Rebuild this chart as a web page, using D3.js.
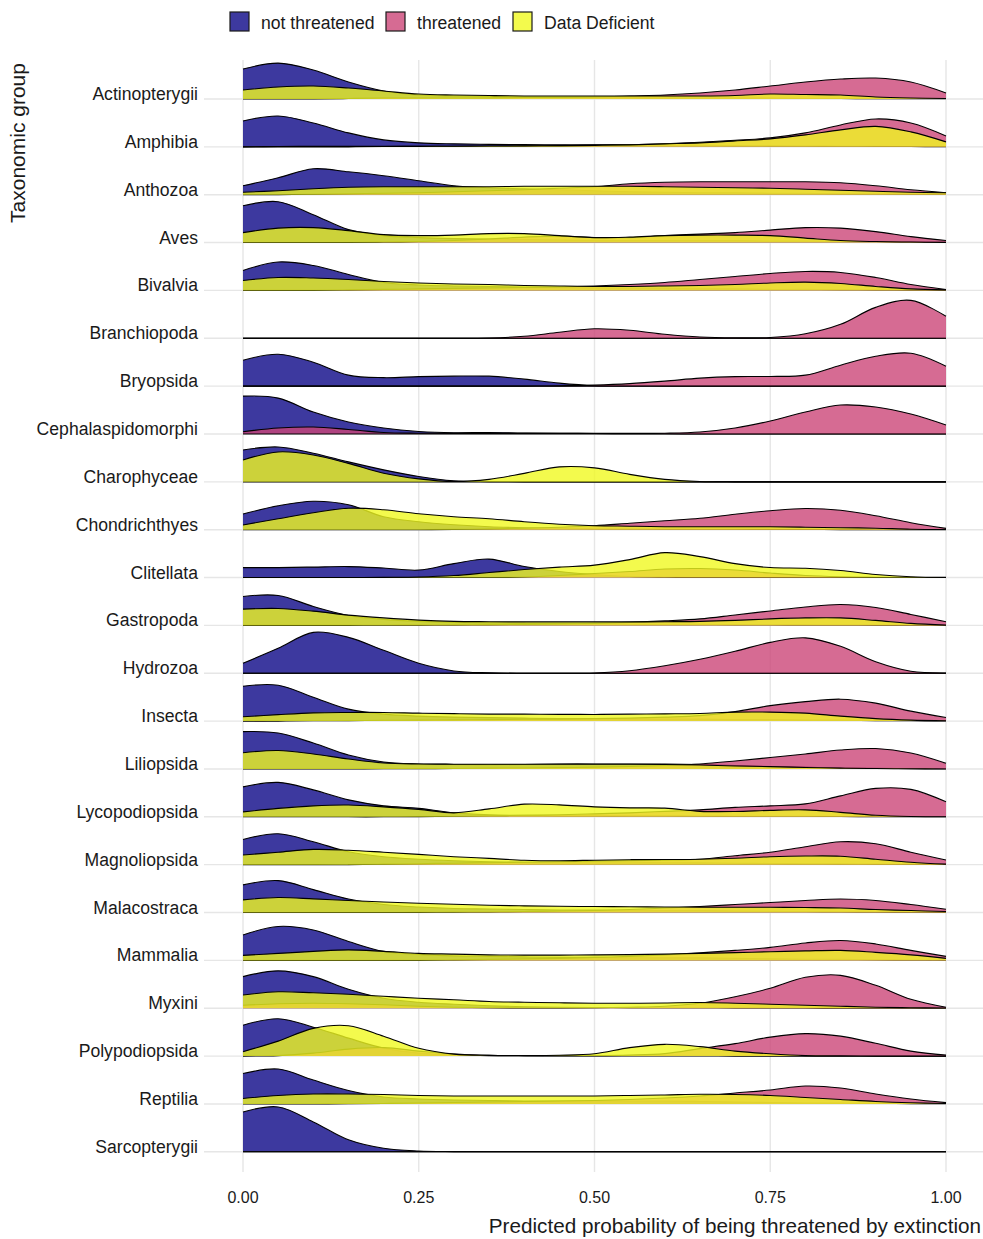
<!DOCTYPE html>
<html lang="en">
<head>
<meta charset="UTF-8">
<title>Predicted extinction risk by taxonomic group</title>
<script src="https://d3js.org/d3.v7.min.js"></script>
<style>
  body { margin: 0; background: #fff; font-family: "Liberation Sans", Arial, sans-serif; }
  .grid line { stroke: #e6e6e6; stroke-width: 1.4px; }
  .ridge-line { fill: none; stroke: #000; stroke-width: 1.1px; }
  .tick-label { font-size: 16px; fill: #1a1a1a; text-anchor: middle; }
  .row-label { font-size: 17.6px; fill: #1a1a1a; text-anchor: end; }
</style>
</head>
<body>
<svg id="chart" width="983" height="1239"></svg>
<script>
var xs = [0, 0.05, 0.1, 0.15, 0.2, 0.25, 0.3, 0.35, 0.4, 0.45, 0.5,
          0.55, 0.6, 0.65, 0.7, 0.75, 0.8, 0.85, 0.9, 0.95, 1];

var groups = ["Actinopterygii", "Amphibia", "Anthozoa", "Aves", "Bivalvia", "Branchiopoda",
  "Bryopsida", "Cephalaspidomorphi", "Charophyceae", "Chondrichthyes", "Clitellata",
  "Gastropoda", "Hydrozoa", "Insecta", "Liliopsida", "Lycopodiopsida", "Magnoliopsida",
  "Malacostraca", "Mammalia", "Myxini", "Polypodiopsida", "Reptilia", "Sarcopterygii"];

var statuses = ["not threatened", "threatened", "Data Deficient"];
var statusColors = ["#0D0887", "#CC4678", "#F0F921"];

var notThreatened = {
  Actinopterygii:     [30, 36, 29, 17, 8, 4, 3, 2.5, 2, 2, 2, 1.5, 1, 1, 1, 1, 0.5, 0.5, 0.3, 0.2, 0.2],
  Amphibia:           [26, 31, 24, 14, 7, 4, 3, 2.5, 2.2, 2, 2, 2, 1.8, 1.5, 1.2, 1, 0.8, 0.6, 0.5, 0.3, 0.2],
  Anthozoa:           [9, 17, 26, 23, 19, 14, 9, 7, 6, 5, 4, 3, 2.5, 2, 2, 1.5, 1.5, 1, 1, 0.5, 0.5],
  Aves:               [37, 41, 28, 13, 7, 5, 4, 3.5, 3, 2.5, 2, 2, 2, 2, 2, 1.5, 1.5, 1, 1, 0.5, 0.3],
  Bivalvia:           [20, 28.5, 25, 16, 8, 5.5, 4.5, 4, 3.5, 3, 2.5, 2, 2, 1.5, 1.5, 1, 1, 0.8, 0.5, 0.3, 0.2],
  Branchiopoda:       [0, 0, 0, 0, 0, 0, 0, 0, 0, 0, 0, 0, 0, 0, 0, 0, 0, 0, 0, 0, 0],
  Bryopsida:          [26, 32, 24, 11, 8.5, 9.5, 10, 10, 7, 3, 0.5, 0.2, 0, 0, 0, 0, 0, 0, 0, 0, 0],
  Cephalaspidomorphi: [38, 36, 22, 12, 6, 2.5, 1.2, 1.5, 1, 0.8, 0.5, 0.3, 0.2, 0.1, 0, 0, 0, 0, 0, 0, 0],
  Charophyceae:       [32, 35, 28.7, 20, 12, 5.3, 1, 0.2, 0, 0, 0, 0, 0, 0, 0, 0, 0, 0, 0, 0, 0],
  Chondrichthyes:     [15.7, 24, 28.5, 25, 13, 8, 5, 3, 2, 1.5, 1, 0.8, 0.6, 0.5, 0.4, 0.3, 0.2, 0.1, 0, 0, 0],
  Clitellata:         [10, 10, 10.5, 11, 9.5, 7.5, 14, 18.5, 11, 6, 3, 1, 0.3, 0, 0, 0, 0, 0, 0, 0, 0],
  Gastropoda:         [29, 30, 19, 10, 6, 4, 3, 2.5, 2, 1.8, 1.5, 1.2, 1, 1, 0.8, 0.6, 0.5, 0.4, 0.3, 0.2, 0.1],
  Hydrozoa:           [10, 25, 41, 36, 23, 10, 2.3, 0.4, 0, 0, 0, 0, 0, 0, 0, 0, 0, 0, 0, 0, 0],
  Insecta:            [35, 36, 24, 12, 7, 5, 4, 3.5, 3, 2.5, 2.5, 2, 2, 2, 1.5, 1.5, 1, 1, 0.5, 0.3, 0.2],
  Liliopsida:         [37.5, 36, 26, 14, 7, 5, 4.5, 4.3, 4.5, 5, 5, 5, 5, 4.5, 3.5, 2.5, 1.8, 1, 0.6, 0.3, 0.2],
  Lycopodiopsida:     [30, 34.5, 27, 17, 11, 8.5, 4, 2, 1.5, 1.2, 1, 1, 1, 0.8, 0.6, 0.5, 0.5, 0.3, 0.2, 0.1, 0],
  Magnoliopsida:      [25.3, 31, 23, 13, 8, 5.5, 4, 3, 2.5, 2, 2, 2, 2, 1.8, 1.5, 1.2, 1, 0.8, 0.5, 0.3, 0.2],
  Malacostraca:       [27.7, 32, 23, 13.5, 8, 5.5, 4, 3.5, 3, 2.5, 2.5, 2, 2, 2, 1.5, 1.2, 1, 0.8, 0.5, 0.3, 0.2],
  Mammalia:           [25.5, 34, 30.5, 19, 9, 6, 4.5, 4, 3.5, 3, 3, 2.5, 2.5, 2.5, 2, 1.5, 1.2, 1, 0.7, 0.4, 0.2],
  Myxini:             [31.7, 37.5, 31.7, 19, 10, 6, 4, 2.5, 1.5, 1, 0.8, 0.6, 0.5, 0.5, 0.4, 0.3, 0.2, 0.1, 0, 0, 0],
  Polypodiopsida:     [31, 37.5, 29, 18, 8, 3, 1, 0.5, 0.3, 0.2, 0.2, 0.2, 0.2, 0.1, 0, 0, 0, 0, 0, 0, 0],
  Reptilia:           [30.5, 35, 24, 13.5, 7, 5, 4, 3.5, 3, 3, 3, 3, 3, 2.5, 2, 1.5, 1, 0.8, 0.5, 0.3, 0.2],
  Sarcopterygii:      [40, 45, 30, 12, 3.5, 0.8, 0.2, 0, 0, 0, 0, 0, 0, 0, 0, 0, 0, 0, 0, 0, 0]
};

var threatened = {
  Actinopterygii:     [0, 0, 0, 0.5, 1, 1, 1, 1, 1.5, 1.5, 2, 3, 4, 6, 9, 13, 17, 20, 21, 17, 6],
  Amphibia:           [0, 0, 0, 0, 0.3, 0.5, 0.5, 0.6, 0.8, 1, 1.5, 2, 3, 4.5, 6.5, 9, 14, 22, 28, 24, 11],
  Anthozoa:           [0, 0, 0.5, 1, 1.5, 2, 3, 4, 5, 6.5, 8, 11, 12.5, 13, 13, 13, 13, 12, 9, 5, 2],
  Aves:               [0, 0, 0, 0, 0.5, 1, 2, 3.5, 5.5, 6.5, 5, 5, 7, 8.5, 10, 12.5, 15, 14.5, 11, 6, 2],
  Bivalvia:           [0, 0, 0, 0.5, 1, 1.5, 2, 2.5, 3, 3.5, 4.5, 6, 8, 11, 14, 17, 19, 18, 13, 6, 1],
  Branchiopoda:       [0, 0, 0, 0, 0, 0, 0, 0.3, 2, 6, 9.5, 8, 4, 1.3, 0.5, 0.8, 4.5, 14, 31, 38, 22],
  Bryopsida:          [0, 0, 0, 0, 0, 0, 0, 0, 0, 0.3, 1, 2.5, 5, 8, 9.5, 9.7, 11, 21, 30, 33, 20],
  Cephalaspidomorphi: [2.3, 6, 7, 4.5, 1.5, 0.8, 0.6, 0.6, 0.6, 0.6, 0.6, 0.6, 0.8, 2, 6, 13, 22, 29, 27, 20, 9],
  Charophyceae:       [0, 0, 0, 0, 0, 0, 0, 0, 0, 0, 0, 0, 0, 0, 0, 0, 0, 0, 0, 0, 0],
  Chondrichthyes:     [0, 0, 0, 0, 0, 0, 0.3, 0.8, 1.5, 2.5, 4, 6.5, 9, 11.5, 15.5, 19, 21.2, 19.5, 14, 7, 1.3],
  Clitellata:         [0, 0, 0, 0, 0, 0, 0, 0, 0.5, 2, 4, 6, 8.5, 9, 7.5, 4.5, 2, 0.8, 0.3, 0, 0],
  Gastropoda:         [0, 0, 0, 0, 0.2, 0.3, 0.5, 0.8, 1, 1.5, 2, 3, 4.5, 6.5, 10.5, 14.5, 18.5, 21, 18, 11, 3.7],
  Hydrozoa:           [0, 0, 0, 0, 0, 0, 0, 0, 0, 0, 0.3, 2.5, 7.5, 14, 22, 31, 35.5, 27, 11.5, 2, 0.3],
  Insecta:            [0, 0, 0.3, 0.5, 0.8, 1, 1.2, 1.5, 1.8, 2, 2.5, 3, 4, 5.5, 9.5, 15.5, 19.5, 22, 18, 10, 3.7],
  Liliopsida:         [0, 0, 0, 0, 0.2, 0.3, 0.5, 0.8, 1, 1.3, 1.8, 2.5, 3.5, 5, 8, 11.5, 15, 19, 20.5, 16, 5.7],
  Lycopodiopsida:     [0, 0, 0, 0, 0, 0.2, 0.5, 1, 1.5, 2, 3, 4, 5.5, 7, 9.5, 11, 13, 21, 28.5, 27.5, 15],
  Magnoliopsida:      [0, 0, 0, 0, 0.5, 1, 1.5, 2, 2.5, 3, 3.5, 4, 4.5, 5.5, 9, 12.5, 18, 23, 21, 12.5, 4.7],
  Malacostraca:       [0, 0, 0, 0, 0, 0.2, 0.4, 0.6, 1, 1.5, 2, 3, 4.5, 6, 8, 10, 12, 13.5, 12, 8, 3.3],
  Mammalia:           [0, 0, 0, 0, 0, 0, 0.5, 1, 1.5, 2, 3, 4, 5.5, 7.5, 10, 13, 17.5, 20, 16.5, 10, 4],
  Myxini:             [3, 4.5, 5, 4.5, 3.5, 2, 1, 0.5, 0.3, 0.3, 0.5, 1, 2, 5, 11.5, 20, 31, 33, 23, 9, 1],
  Polypodiopsida:     [0, 0.5, 3, 7, 8.5, 5, 2, 0.8, 0.5, 0.5, 0.5, 1, 2.5, 7.5, 12.5, 19, 22.5, 20, 12.8, 5, 1],
  Reptilia:           [0, 0, 0, 0.2, 0.5, 1, 1.5, 2, 2.5, 3, 3.5, 4.5, 6, 8, 11, 14, 18, 16, 10, 5, 1.3],
  Sarcopterygii:      [0, 0, 0, 0, 0, 0, 0, 0, 0, 0, 0, 0, 0, 0, 0, 0, 0, 0, 0, 0, 0]
};

var dataDeficient = {
  Actinopterygii:     [9, 12, 13, 11, 8, 5, 4, 3.5, 3, 3, 3, 3, 3, 3, 3.5, 5, 4.5, 4, 2, 1, 0.5],
  Amphibia:           [0, 0.3, 0.5, 0.5, 0.5, 0.5, 0.6, 0.8, 1, 1.2, 1.5, 2, 3, 4, 6, 8, 12, 17, 20.5, 15, 5],
  Anthozoa:           [2.5, 4, 6, 7.5, 8, 8, 8, 8, 8.5, 8.5, 8.5, 8.5, 8, 7.5, 7, 6.5, 5.5, 4.5, 3.5, 2.5, 2],
  Aves:               [10, 14.5, 15, 12, 8, 7, 7.5, 9, 9, 7, 5, 5.5, 7, 7.5, 7.5, 7, 4.5, 2, 1, 0.5, 0.2],
  Bivalvia:           [10, 13, 12.5, 11, 9, 7.5, 6.5, 6, 5, 4.5, 4, 4, 4.5, 5, 6, 7.5, 8.3, 7, 4, 1.5, 0.5],
  Branchiopoda:       [0, 0, 0, 0, 0, 0, 0, 0, 0, 0, 0, 0, 0, 0, 0, 0, 0, 0, 0, 0, 0],
  Bryopsida:          [0, 0, 0, 0, 0, 0, 0, 0, 0, 0, 0, 0, 0, 0, 0, 0, 0, 0, 0, 0, 0],
  Cephalaspidomorphi: [0, 0, 0, 0, 0, 0, 0, 0, 0, 0, 0, 0, 0, 0, 0, 0, 0, 0, 0, 0, 0],
  Charophyceae:       [22, 30, 27, 18.5, 8.7, 3, 0.4, 2.5, 8.5, 15, 14, 7.5, 2.5, 0.4, 0, 0, 0, 0, 0, 0, 0],
  Chondrichthyes:     [4.7, 11, 17, 21.5, 20, 16, 13, 11, 8, 5.5, 4, 3.5, 3, 3, 3, 3, 2.5, 2, 1.5, 0.5, 0.2],
  Clitellata:         [0, 0, 0, 0, 0.2, 0.5, 2, 5, 8, 10.5, 12.5, 18, 25, 21, 14, 10, 9.3, 7, 3, 0.8, 0.2],
  Gastropoda:         [16.3, 17, 14.3, 10.3, 7.5, 5.3, 4, 3.7, 3.5, 3.5, 3.5, 3.5, 3.7, 4, 5, 6.5, 7.5, 7.5, 5, 2, 0.3],
  Hydrozoa:           [0, 0, 0, 0, 0, 0, 0, 0, 0, 0, 0, 0, 0, 0, 0, 0, 0, 0, 0, 0, 0],
  Insecta:            [4.3, 6.5, 8.3, 8.7, 8.7, 8, 7.5, 7, 7, 6.8, 6.7, 7, 7.3, 7.7, 9, 9, 8, 5, 2.5, 1, 0.3],
  Liliopsida:         [16.3, 18.5, 15, 10, 6, 5, 4.8, 4.8, 4.8, 4.8, 4.8, 4.7, 4.5, 4, 3, 2.3, 1.5, 0.8, 0.4, 0.2, 0],
  Lycopodiopsida:     [5, 8.5, 11, 11.8, 10, 7.5, 4, 8, 12.7, 12, 10, 9, 8.7, 5.5, 5.3, 6.5, 7, 4.5, 1.5, 0.3, 0],
  Magnoliopsida:      [9.7, 12.5, 15.3, 14.5, 12.5, 10.3, 8, 6.3, 4.5, 4, 4.5, 5, 5.2, 5.5, 6.5, 8, 8.7, 8.5, 5.5, 2.5, 0.5],
  Malacostraca:       [12.7, 15, 13.7, 12, 10.5, 9.3, 8.3, 7.3, 6.7, 6.3, 6, 5.8, 5.6, 5.4, 5.3, 5.3, 5, 4.5, 3, 2, 1],
  Mammalia:           [5, 7, 9, 10.5, 9, 7, 6.3, 5.5, 5.3, 5.3, 5.5, 5.8, 6.3, 7, 7.8, 8.7, 9.5, 10, 8, 5.5, 2],
  Myxini:             [13.3, 16.5, 15.5, 14, 12, 10, 8.5, 6.8, 6, 5.5, 5, 5, 5.3, 5.7, 5, 4, 3, 2, 1, 0.5, 0.2],
  Polypodiopsida:     [4.4, 15, 27.8, 30.5, 20, 7.8, 2, 0.7, 0.5, 0.8, 2.3, 8.5, 11.8, 9.5, 5, 2.3, 0.5, 0.2, 0, 0, 0],
  Reptilia:           [5.5, 8.5, 10, 10, 9.5, 8.5, 8, 8, 8, 8, 8, 8.5, 9, 9.7, 9.5, 8.5, 6.5, 4.5, 2.5, 1.2, 0.5],
  Sarcopterygii:      [0, 0, 0, 0, 0, 0, 0, 0, 0, 0, 0, 0, 0, 0, 0, 0, 0, 0, 0, 0, 0]
};

var xTicks = [0, 0.25, 0.5, 0.75, 1];

// ---- layout ----
var svg = d3.select("#chart");
var panel = { left: 204, right: 983, top: 60, bottom: 1172 };

var x = d3.scaleLinear().domain([0, 1]).range([243, 946]);
var y = d3.scalePoint().domain(groups).range([99, 1151.8]);
var h = d3.scaleLinear().domain([0, 48]).range([0, y.step()]);

// grid
var grid = svg.append("g").attr("class", "grid");
grid.selectAll(".vline")
    .data(xTicks)
  .enter().append("line")
    .attr("x1", d => x(d)).attr("x2", d => x(d))
    .attr("y1", panel.top).attr("y2", panel.bottom);
grid.selectAll(".hline")
    .data(groups)
  .enter().append("line")
    .attr("x1", panel.left).attr("x2", panel.right)
    .attr("y1", d => y(d)).attr("y2", d => y(d));

// ridges: one row per group, top row drawn first
var seriesList = [notThreatened, threatened, dataDeficient];
var curve = d3.curveCatmullRom.alpha(0.5);

groups.forEach(function(g) {
    var base = y(g);
    var row = svg.append("g").attr("class", "row");

    var area = d3.area()
        .x((d, i) => x(xs[i]))
        .y0(base)
        .y1(d => base - h(d))
        .curve(curve);

    var line = d3.line()
        .x((d, i) => x(xs[i]))
        .y(d => base - h(d))
        .curve(curve);

    seriesList.forEach(function(series, k) {
        row.append("path")
            .attr("d", area(series[g]))
            .attr("fill", statusColors[k])
            .attr("fill-opacity", 0.8);
        row.append("path")
            .attr("class", "ridge-line")
            .attr("d", line(series[g]));
    });
});

// row labels
svg.selectAll(".row-label")
    .data(groups)
  .enter().append("text")
    .attr("class", "row-label")
    .attr("x", 198)
    .attr("y", d => y(d) + 1)
    .text(d => d);

// x tick labels
svg.selectAll(".tick-label")
    .data(xTicks)
  .enter().append("text")
    .attr("class", "tick-label")
    .attr("x", d => x(d))
    .attr("y", 1203)
    .text(d => d3.format(".2f")(d));

// axis titles
svg.append("text")
    .attr("x", 981)
    .attr("y", 1233)
    .attr("text-anchor", "end")
    .style("font-size", "20.7px")
    .attr("fill", "#1a1a1a")
    .text("Predicted probability of being threatened by extinction");

svg.append("text")
    .attr("transform", "translate(25,143) rotate(-90)")
    .attr("text-anchor", "middle")
    .style("font-size", "21px")
    .attr("fill", "#1a1a1a")
    .text("Taxonomic group");

// legend
var legendX = [230, 386, 513];
var legend = svg.selectAll(".legend")
    .data(statuses)
  .enter().append("g")
    .attr("class", "legend")
    .attr("transform", (d, i) => "translate(" + legendX[i] + ",12)");

legend.append("rect")
    .attr("width", 19).attr("height", 19)
    .attr("fill", (d, i) => statusColors[i])
    .attr("fill-opacity", 0.8)
    .attr("stroke", "#1a1a1a")
    .attr("stroke-width", 1.2);

legend.append("text")
    .attr("x", 31)
    .attr("y", 16.5)
    .style("font-size", "17.6px")
    .attr("fill", "#1a1a1a")
    .text(d => d);
</script>
</body>
</html>
